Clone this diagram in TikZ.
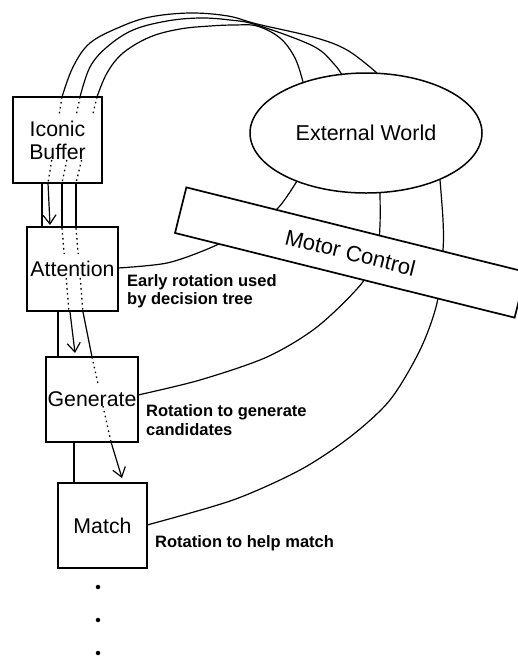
\documentclass[tikz,border=0pt]{standalone}
\usepackage{fontspec}
\setmainfont{Liberation Sans}
\usetikzlibrary{shapes.geometric,arrows.meta}
\pgfdeclarelayer{bg}
\pgfsetlayers{bg,main}
\begin{document}
\begin{tikzpicture}[x=1pt,y=-1pt,
  box/.style={draw,line width=1.7pt,rectangle,inner sep=0pt,font=\fontsize{21.3}{23}\selectfont},
  conn/.style={line width=1.2pt},
  dots/.style={line width=1.3pt,dash pattern=on 1.6pt off 3.4pt},
  arr/.style={conn,-{Straight Barb[length=9pt,width=13pt]}},
  lab/.style={font=\fontsize{16.5}{18.5}\selectfont\bfseries,align=left,inner sep=0pt,anchor=west},
  dotn/.style={circle,fill,inner sep=0pt,minimum size=4.5pt}]
\useasboundingbox (0,0) rectangle (518,657);
\clip (0,0) rectangle (518,657);

% nodes
\node[box,minimum width=89pt,minimum height=86pt,align=center] (ib) at (57.5,140) {Iconic\\Buffer};
\node[box,minimum width=91pt,minimum height=84pt] (att) at (72.5,269) {Attention};
\node[box,minimum width=92pt,minimum height=85pt] (gen) at (92,399.5) {Generate};
\node[box,minimum width=89pt,minimum height=85pt] (mat) at (102.5,525.5) {Match};
\node[draw,ellipse,line width=1.5pt,minimum width=232pt,minimum height=120pt,inner sep=0pt,
  font=\fontsize{21.5}{24}\selectfont] (ew) at (366,133) {External World};
\node[draw,fill=white,line width=1.7pt,minimum width=350pt,minimum height=47pt,rotate=-14,
  inner sep=0pt,font=\fontsize{22}{24}\selectfont] (mc) at (350.5,252.5) {Motor Control};

\node[lab] (l1) at (127,291) {Early rotation used\\by decision tree};
\node[lab] (l2) at (146,420) {Rotation to generate\\candidates};
\node[lab] (l3) at (155,543) {Rotation to help match};

\node[dotn] (d1) at (98,587) {};
\node[dotn] (d2) at (98,620) {};
\node[dotn] (d3) at (98,653) {};

\begin{pgfonlayer}{bg}
\fill[white] (0,0) rectangle (518,657);
% arcs from external world to iconic buffer
\draw[conn] plot[smooth,tension=0.6] coordinates {(62,97) (73,67) (90,43) (120,27) (150,17) (190,13) (228,16) (257,24) (313,37) (347,50) (377,73)};
\draw[conn] plot[smooth,tension=0.6] coordinates {(80,97) (90,67) (107,47) (133,30) (167,21) (200,18) (230,20) (257,25) (313,46) (334,64) (342,75)};
\draw[conn] plot[smooth,tension=0.6] coordinates {(97,97) (107,73) (123,53) (150,37) (180,29) (210,26) (235,25) (257,26) (280,38) (295,58) (303,82)};
\end{pgfonlayer}
% dotted continuations through the boxes (hidden behind the text)
\draw[dots] (62,97) -- (58.9,116);
\draw[dots] (51.7,160) -- (48,183);
\draw[dots] (80,97) -- (76,116);
\draw[dots] (66.8,160) -- (62,183);
\draw[dots] (97,97) -- (92.4,116);
\draw[dots] (81.6,160) -- (76,183);
\draw[dots] (62,228) -- (64.2,254);
\draw[dots] (66.2,278) -- (69,312);
\draw[dots] (76,228) -- (78.2,254);
\draw[dots] (80.2,278) -- (83,312);
\draw[dots] (92,357) -- (97.8,383);
\draw[dots] (103,406) -- (111,442);
\begin{pgfonlayer}{bg}
\draw[arr] (48,183) -- (50,225);
\draw[conn] (62,183) -- (62,228);
\draw[conn] (76,183) -- (76,228);
\draw[arr] (70,312) -- (75,353);
\draw[conn] (83,312) -- (92,357);
\draw[arr] (111,442) -- (122,478);
% plain links
\draw[conn] (42,0 |- ib.south) -- (42,0 |- att.north);
\draw[conn] (58,0 |- att.south) -- (58,0 |- gen.north);
\draw[conn] (74,0 |- gen.south) -- (74,0 |- mat.north);
% curves to external world
\draw[conn] plot[smooth] coordinates {(118,268) (167,263) (210,248) (250,228) (278,208) (297,181)};
\draw[conn] plot[smooth] coordinates {(138,395) (200,380) (267,357) (317,327) (362,283) (377,250) (380,225) (380,193)};
\draw[conn] plot[smooth] coordinates {(147,525) (233,500) (300,470) (350,437) (390,400) (420,350) (437,303) (443,250) (443,220) (440,180)};
\end{pgfonlayer}
\end{tikzpicture}
\end{document}
